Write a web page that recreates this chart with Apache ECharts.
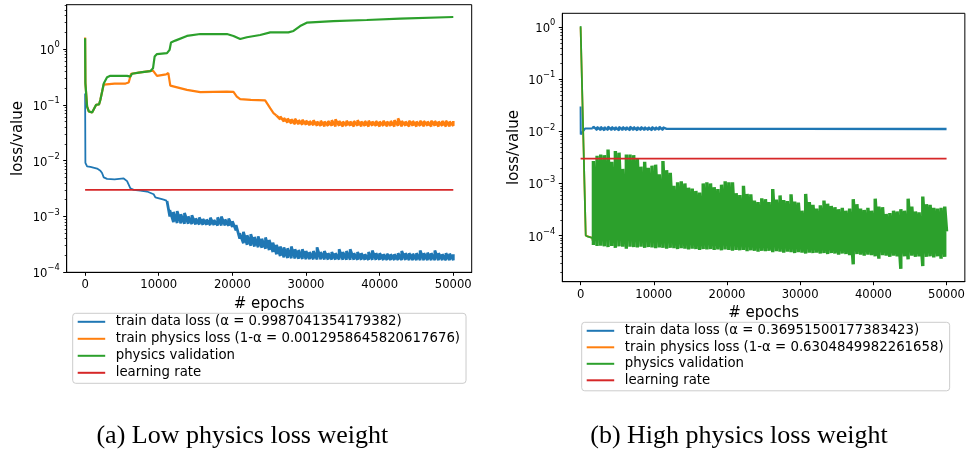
<!DOCTYPE html>
<html><head><meta charset="utf-8">
<script src="https://cdn.jsdelivr.net/npm/echarts@6/dist/echarts.min.js"></script>
<style>html,body{margin:0;padding:0;background:#fff}#c{width:968px;height:451px}</style>
</head><body><div id="c"></div>
<script>
// ---------- tick labels ----------
const xTicks = [0, 10000, 20000, 30000, 40000, 50000];
const leftYTicks = [1e-4, 1e-3, 1e-2, 1e-1, 1];
const rightYTicks = [1e-4, 1e-3, 1e-2, 1e-1, 1];

// ---------- legend names ----------
const leftNames = ['train data loss (α = 0.9987041354179382)', 'train physics loss (1-α = 0.0012958645820617676)', 'physics validation', 'learning rate'];
const rightNames = ['train data loss (α = 0.36951500177383423)', 'train physics loss (1-α = 0.6304849982261658)', 'physics validation', 'learning rate'];

// ---------- LEFT chart (a) ----------
const leftBlueEpochs = [0, 40, 270, 720, 1630, 2075, 2300, 2530, 2980, 4000, 5240, 5700, 6150, 6600, 7500, 8410, 9310, 9540, 10670, 11120];
const leftBlueValues = [0.16, 0.0091, 0.0079, 0.0077, 0.0072, 0.0066, 0.006, 0.005, 0.0047, 0.0046, 0.0048, 0.0043, 0.0032, 0.003, 0.0029, 0.0028, 0.0025, 0.0022, 0.002, 0.0019];
// noisy band, samples every 500 epochs from 11500
const leftBlueBandStart = 11500;
const leftBlueBandLow = [1.0e-3,7.9e-4,7.6e-4,7.5e-4,7.4e-4,7.4e-4,7.3e-4,7.2e-4,7.2e-4,7.1e-4,
7.1e-4,7.0e-4,7.0e-4,6.9e-4,6.9e-4,6.9e-4,6.8e-4,6.5e-4,5.6e-4,4.0e-4,
3.3e-4,3.1e-4,3.0e-4,2.9e-4,2.8e-4,2.75e-4,2.65e-4,2.5e-4,2.3e-4,2.1e-4,
1.95e-4,1.85e-4,1.8e-4,1.78e-4,1.76e-4,1.74e-4,1.73e-4,1.72e-4,
1.71e-4,1.71e-4,1.70e-4,1.70e-4,1.70e-4,1.69e-4,1.69e-4,1.69e-4,1.69e-4,1.68e-4,
1.68e-4,1.68e-4,1.68e-4,1.68e-4,1.67e-4,1.67e-4,1.67e-4,1.67e-4,1.67e-4,1.67e-4,
1.66e-4,1.66e-4,1.66e-4,1.66e-4,1.66e-4,1.66e-4,1.66e-4,1.65e-4,1.65e-4,1.65e-4,
1.65e-4,1.65e-4,1.65e-4,1.65e-4,1.65e-4,1.65e-4,1.65e-4,1.65e-4,1.65e-4,1.65e-4];
const leftBlueBandHigh = [1.3e-3,1.2e-3,1.25e-3,1.1e-3,1.15e-3,1.0e-3,1.05e-3,9.2e-4,9.6e-4,9.0e-4,
8.8e-4,9.5e-4,8.6e-4,9.6e-4,1.0e-3,8.8e-4,9.2e-4,8.2e-4,7.0e-4,5.0e-4,
5.3e-4,4.6e-4,4.8e-4,4.3e-4,4.4e-4,4.0e-4,4.2e-4,3.8e-4,3.4e-4,3.1e-4,
2.9e-4,2.8e-4,2.7e-4,2.9e-4,2.6e-4,2.5e-4,2.6e-4,2.4e-4,
2.3e-4,2.4e-4,2.8e-4,2.3e-4,2.4e-4,2.2e-4,2.3e-4,2.2e-4,2.6e-4,2.3e-4,
2.4e-4,2.6e-4,2.2e-4,2.3e-4,2.2e-4,2.1e-4,2.3e-4,2.45e-4,2.2e-4,2.2e-4,
2.1e-4,2.15e-4,2.1e-4,2.1e-4,2.2e-4,2.4e-4,2.2e-4,2.2e-4,2.15e-4,2.2e-4,
2.45e-4,2.2e-4,2.25e-4,2.2e-4,2.45e-4,2.2e-4,2.1e-4,2.2e-4,2.15e-4,2.1e-4];

const leftOrangeEpochs = [0, 40, 270, 500, 950, 1170, 1500, 1900, 2075, 2300, 2530, 2750, 4000, 5500, 5920, 6240, 7500, 9220, 9440, 9760, 11000, 11300, 11570, 11800, 13830, 15640, 19260, 20150, 20600, 21060, 22500, 24450, 25130, 25580, 26000];
const leftOrangeValues = [1.6, 0.25, 0.093, 0.076, 0.073, 0.074, 0.1, 0.102, 0.123, 0.17, 0.23, 0.24, 0.24, 0.24, 0.25, 0.36, 0.38, 0.41, 0.38, 0.33, 0.35, 0.37, 0.22, 0.207, 0.185, 0.168, 0.172, 0.17, 0.14, 0.126, 0.122, 0.12, 0.087, 0.071, 0.064];
const leftOrangeBandStart = 26500;
const leftOrangeBandLow = [0.055,0.050,0.048,0.046,0.045,0.045,0.044,0.044,0.043,0.043,0.042,
0.042,0.041,0.042,0.042,0.041,0.042,0.041,0.042,0.042,0.041,0.042,0.041,0.042,0.041,0.042,0.042,0.041,0.042,
0.041,0.042,0.041,0.042,0.041,0.042,0.041,0.042,0.041,0.042,0.041,0.042,0.041,0.042,0.041,0.042,0.041,0.041,0.042];
const leftOrangeBandHigh = [0.062,0.058,0.057,0.055,0.056,0.053,0.054,0.052,0.051,0.053,0.050,
0.052,0.050,0.051,0.053,0.055,0.051,0.050,0.052,0.050,0.051,0.053,0.050,0.051,0.052,0.050,0.051,0.050,0.052,
0.050,0.051,0.053,0.057,0.051,0.050,0.052,0.051,0.050,0.052,0.051,0.050,0.052,0.051,0.050,0.051,0.052,0.050,0.051];

const leftGreenEpochs = [0, 40, 270, 500, 950, 1170, 1500, 1900, 2075, 2300, 2530, 2980, 3430, 5700, 6150, 6370, 7500, 8860, 9220, 9440, 9760, 11120, 11470, 11660, 12250, 13830, 15640, 19260, 20150, 21060, 21970, 23770, 25140, 27600, 28300, 29200, 30100, 33700, 38250, 42770, 50000];
const leftGreenValues = [1.55, 0.24, 0.093, 0.076, 0.073, 0.074, 0.1, 0.102, 0.123, 0.17, 0.24, 0.31, 0.33, 0.33, 0.32, 0.36, 0.38, 0.40, 0.45, 0.73, 0.81, 0.84, 0.96, 1.30, 1.41, 1.71, 1.85, 1.85, 1.71, 1.51, 1.62, 1.78, 1.98, 1.98, 2.1, 2.57, 2.95, 3.16, 3.3, 3.48, 3.73];

const lrEpochs = [0, 50000];
const lrValues = [0.003, 0.003];

// ---------- RIGHT chart (b) ----------
const rightBlueEpochs = [0, 20, 600, 1650];
const rightBlueValues = [0.03, 0.0087, 0.0113, 0.0113];
const rightBlueBandStart = 1750;
const rightBlueBandLow = [0.0104,0.0106,0.0105,0.0104,0.0106,0.0105,0.0106,0.0104,0.0105,0.0106,0.0105,0.0106,0.0104,0.0106,0.0105,0.0106,0.0105,0.0106,0.0107,0.0106];
const rightBlueBandHigh = [0.0124,0.0122,0.0123,0.0121,0.0124,0.0122,0.0121,0.0123,0.0122,0.0121,0.0123,0.0122,0.0121,0.0122,0.0121,0.0120,0.0122,0.0120,0.0123,0.0119];
const rightBlueTailEpochs = [11750, 30000, 50000];
const rightBlueTailValues = [0.0112, 0.0112, 0.0111];

const rightOrangeEpochs = [0, 700, 1600, 1750];
const rightOrangeValues = [1.0, 1.0e-4, 9.0e-5, 7.0e-5];

const rightGreenEpochs = [0, 700, 1000, 1600, 1750];
const rightGreenValues = [1.05, 1.0e-4, 9.5e-5, 9.0e-5, 6.6e-5];
const rightGreenBandStart = 1750;
const rightGreenBandHigh = [2.7e-3,3.4e-3,3.6e-3,3.5e-3,4.5e-3,2.6e-3,4.2e-3,3.9e-3,1.9e-3,3.6e-3,
3.6e-3,3.5e-3,3.0e-3,2.1e-3,2.6e-3,2.0e-3,2.2e-3,2.3e-3,1.5e-3,2.7e-3,
1.8e-3,1.6e-3,9.0e-4,1.05e-3,1.1e-3,1.0e-3,8.3e-4,8.0e-4,7.2e-4,6.7e-4,
1.0e-3,1.05e-3,1.0e-3,8.5e-4,7.8e-4,9.5e-4,1.1e-3,1.05e-3,1.05e-3,6.5e-4,
6.0e-4,9.0e-4,6.3e-4,6.2e-4,4.7e-4,4.4e-4,5.2e-4,5.0e-4,4.4e-4,7.8e-4,
4.9e-4,5.9e-4,4.8e-4,4.6e-4,6.2e-4,4.5e-4,4.3e-4,3.0e-4,6.3e-4,4.4e-4,
3.9e-4,3.3e-4,3.8e-4,4.7e-4,4.1e-4,3.7e-4,3.5e-4,3.2e-4,3.4e-4,3.0e-4,
3.3e-4,5.0e-4,4.0e-4,3.3e-4,3.1e-4,3.4e-4,3.0e-4,5.1e-4,3.6e-4,3.5e-4,
2.6e-4,2.7e-4,3.0e-4,2.9e-4,3.2e-4,3.0e-4,5.1e-4,3.6e-4,2.9e-4,2.8e-4,
5.6e-4,4.0e-4,3.9e-4,3.4e-4,3.3e-4,3.4e-4,3.6e-4];
const rightGreenBandLow = [6.6e-5,6.3e-5,6.4e-5,6.2e-5,6.0e-5,6.3e-5,5.8e-5,6.2e-5,6.1e-5,5.6e-5,
6.1e-5,6.0e-5,5.9e-5,6.1e-5,5.8e-5,6.0e-5,5.9e-5,5.7e-5,5.9e-5,5.8e-5,
5.6e-5,5.8e-5,5.7e-5,5.5e-5,5.7e-5,5.6e-5,5.4e-5,5.6e-5,5.5e-5,5.3e-5,
5.5e-5,5.4e-5,5.5e-5,5.3e-5,5.4e-5,5.2e-5,5.4e-5,5.3e-5,5.1e-5,5.3e-5,
5.2e-5,5.3e-5,5.0e-5,5.2e-5,5.1e-5,4.9e-5,5.1e-5,5.0e-5,5.1e-5,4.8e-5,
5.0e-5,4.9e-5,4.7e-5,4.9e-5,4.8e-5,4.6e-5,4.8e-5,4.7e-5,4.5e-5,4.7e-5,
4.6e-5,4.7e-5,4.5e-5,4.6e-5,4.4e-5,4.6e-5,4.5e-5,4.3e-5,4.5e-5,4.4e-5,
4.2e-5,2.8e-5,4.4e-5,4.3e-5,4.1e-5,4.3e-5,4.2e-5,4.0e-5,3.6e-5,4.2e-5,
4.1e-5,3.9e-5,4.1e-5,4.0e-5,2.3e-5,4.0e-5,3.5e-5,4.1e-5,3.9e-5,4.0e-5,
2.6e-5,3.9e-5,4.0e-5,3.8e-5,4.0e-5,3.6e-5,3.9e-5];
const rightGreenTailEpochs = [50000];
const rightGreenTailValues = [1.2e-4];

// ---------- helpers ----------
const BAND_STEP = 500;
function pairs(xs, ys) { return xs.map((x, i) => [x, ys[i]]); }
function band(start, lows, highs) {
  const out = [];
  lows.forEach((lo, i) => { const x = start + i * BAND_STEP; out.push([x, lo]); out.push([x, highs[i]]); });
  return out;
}
function bandAfter(xs, ys, start, lows, highs) {
  return [[xs[xs.length - 1], ys[ys.length - 1]]].concat(band(start, lows, highs));
}
function minorTicks(lo, hi) {
  const out = [];
  for (let d = -6; d <= 1; d++) for (let k = 2; k <= 9; k++) { const v = k * Math.pow(10, d); if (v > lo && v < hi) out.push(v); }
  return out;
}
const FONT = 'DejaVu Sans';
const C = { blue: '#1f77b4', orange: '#ff7f0e', green: '#2ca02c', red: '#d62728' };

function logLabel(v) {
  const e = Math.round(Math.log10(v));
  return '{b|10}{s|' + (e < 0 ? '\u2212' + (-e) : String(e)) + '}';
}

const leftYMin = 1e-4, leftYMax = 6.2;
const rightYMin = 1.3e-5, rightYMax = 1.85;

function xAxis(gridIndex) {
  return {
    type: 'value', gridIndex, min: -2500, max: 52500, position: 'bottom',
    name: '# epochs', nameLocation: 'middle', nameGap: 24,
    nameTextStyle: { fontFamily: FONT, fontSize: 15, color: '#000' },
    axisLine: { show: true, onZero: false, lineStyle: { color: '#000', width: 1 } },
    axisTick: { show: true, inside: false, length: 3.5, customValues: xTicks, lineStyle: { color: '#000', width: 1 } },
    axisLabel: { customValues: xTicks, margin: 7, fontFamily: FONT, fontSize: 11.6, color: '#000', formatter: v => String(v) },
    splitLine: { show: false }
  };
}
function yAxisMajor(gridIndex, min, max, ticks) {
  return {
    type: 'log', gridIndex, min, max, logBase: 10, position: 'left',
    name: 'loss/value', nameLocation: 'middle', nameGap: 41, nameRotate: 90,
    nameTextStyle: { fontFamily: FONT, fontSize: 15, color: '#000' },
    axisLine: { show: true, onZero: false, lineStyle: { color: '#000', width: 1 } },
    axisTick: { show: true, length: 3.5, customValues: ticks, lineStyle: { color: '#000', width: 1 } },
    axisLabel: {
      customValues: ticks, margin: 7, formatter: logLabel,
      rich: {
        b: { fontFamily: FONT, fontSize: 11.6, color: '#000', lineHeight: 16, verticalAlign: 'bottom' },
        s: { fontFamily: FONT, fontSize: 8.3, color: '#000', lineHeight: 9, verticalAlign: 'top' }
      }
    },
    splitLine: { show: false }
  };
}
function yAxisMinor(gridIndex, min, max) {
  return {
    type: 'log', gridIndex, min, max, logBase: 10, position: 'left', offset: 0,
    axisLine: { show: false, onZero: false },
    axisTick: { show: true, length: 2, customValues: minorTicks(min, max), lineStyle: { color: '#000', width: 0.8 } },
    axisLabel: { show: false },
    splitLine: { show: false }
  };
}
function line(name, data, color, xi, yi, width, z) {
  return {
    type: 'line', name, data, xAxisIndex: xi, yAxisIndex: yi, z: z || 2,
    showSymbol: false, symbol: 'none', silent: true, animation: false,
    lineStyle: { color, width: width || 1.8, join: 'bevel' }, itemStyle: { color }
  };
}
function legend(names, left, top, gap) {
  return {
    data: names, left, top, orient: 'vertical', icon: 'rect', itemWidth: 27.5, itemHeight: 2,
    itemGap: gap, selectedMode: false, padding: [2, 6, 4, 5],
    backgroundColor: '#fff', borderColor: '#cccccc', borderWidth: 1, borderRadius: 3,
    formatter: n => '{t|' + n + '}',
    textStyle: {
      fontFamily: FONT, fontSize: 13.3, color: '#000',
      rich: { t: { fontFamily: FONT, fontSize: 13.3, color: '#000', lineHeight: 16, padding: [0, 0, 0, 5.5] } }
    }
  };
}

const chart = echarts.init(document.getElementById('c'), null, { renderer: 'canvas' });
chart.setOption({
  animation: false,
  backgroundColor: '#fff',
  grid: [
    { left: 66.7, top: 4.7, width: 405, height: 267.6, show: true, borderColor: '#000', borderWidth: 1, backgroundColor: 'transparent' },
    { left: 562.3, top: 13.3, width: 406.2, height: 268.4, show: true, borderColor: '#000', borderWidth: 1, backgroundColor: 'transparent' }
  ],
  xAxis: [xAxis(0), xAxis(1)],
  yAxis: [
    yAxisMajor(0, leftYMin, leftYMax, leftYTicks),
    yAxisMajor(1, rightYMin, rightYMax, rightYTicks),
    yAxisMinor(0, leftYMin, leftYMax),
    yAxisMinor(1, rightYMin, rightYMax)
  ],
  legend: [legend(leftNames, 72.7, 313.3, 4), legend(rightNames, 581.7, 322.3, 3.5)],
  series: [
    line(leftNames[0], pairs(leftBlueEpochs, leftBlueValues), C.blue, 0, 0, 1.8),
    line(leftNames[0], bandAfter(leftBlueEpochs, leftBlueValues, leftBlueBandStart, leftBlueBandLow, leftBlueBandHigh), C.blue, 0, 0, 2.8),
    line(leftNames[1], pairs(leftOrangeEpochs, leftOrangeValues), C.orange, 0, 0, 2.2),
    line(leftNames[1], bandAfter(leftOrangeEpochs, leftOrangeValues, leftOrangeBandStart, leftOrangeBandLow, leftOrangeBandHigh), C.orange, 0, 0, 2.6),
    line('physics validation', pairs(leftGreenEpochs, leftGreenValues), C.green, 0, 0, 2.2),
    line('learning rate', pairs(lrEpochs, lrValues), C.red, 0, 0, 1.8, 5),
    line(rightNames[0], pairs(rightBlueEpochs, rightBlueValues), C.blue, 1, 1, 2),
    line(rightNames[0], bandAfter(rightBlueEpochs, rightBlueValues, rightBlueBandStart, rightBlueBandLow, rightBlueBandHigh).concat(pairs(rightBlueTailEpochs, rightBlueTailValues)), C.blue, 1, 1, 2.3),
    line(rightNames[1], pairs(rightOrangeEpochs, rightOrangeValues), C.orange, 1, 1, 1.8),
    line('physics validation', pairs(rightGreenEpochs, rightGreenValues), C.green, 1, 1, 1.8, 3),
    line('physics validation', band(rightGreenBandStart, rightGreenBandLow, rightGreenBandHigh).concat(pairs(rightGreenTailEpochs, rightGreenTailValues)), C.green, 1, 1, 3.4, 3),
    line('learning rate', pairs(lrEpochs, lrValues), C.red, 1, 1, 1.8, 5)
  ],
  graphic: [
    { type: 'text', x: 242.3, y: 435.7, silent: true, style: { text: '(a) Low physics loss weight', fontFamily: 'Liberation Serif', fontSize: 26, fill: '#000', align: 'center', verticalAlign: 'middle' } },
    { type: 'text', x: 739, y: 435.7, silent: true, style: { text: '(b) High physics loss weight', fontFamily: 'Liberation Serif', fontSize: 26, fill: '#000', align: 'center', verticalAlign: 'middle' } }
  ]
});
</script></body></html>
